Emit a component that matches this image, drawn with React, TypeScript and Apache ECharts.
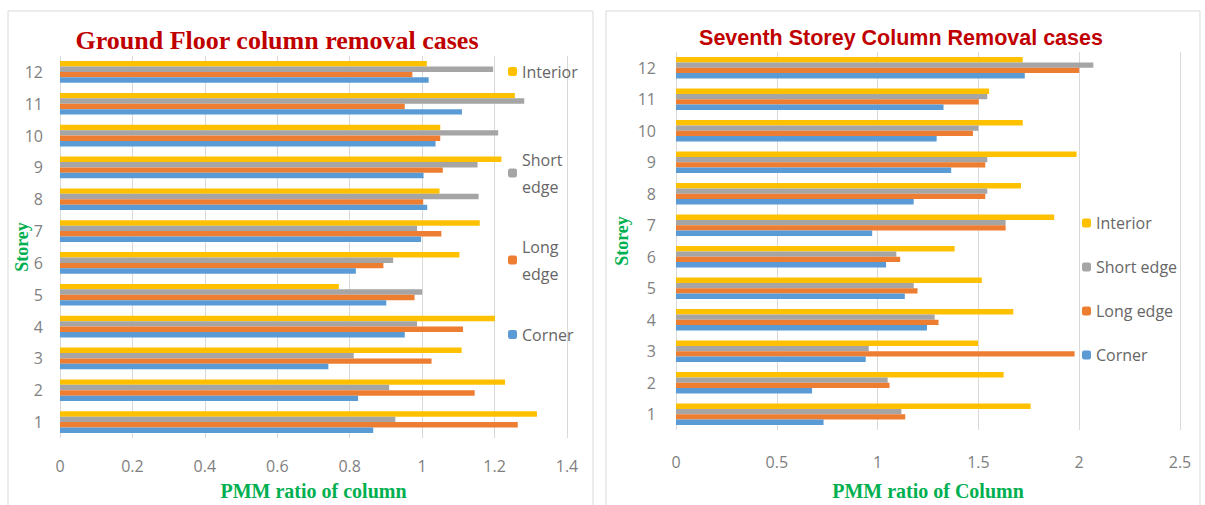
import React, { useEffect, useRef } from "react";
import * as echarts from "echarts";

const storeys = ["1", "2", "3", "4", "5", "6", "7", "8", "9", "10", "11", "12"];
const seriesNames = ["Interior", "Short edge", "Long edge", "Corner"];
const colors = ["#FFC000", "#A5A5A5", "#ED7D31", "#5B9BD5"];

// Ground floor removal cases (storey 1..12)
const gfInterior = [1.317, 1.229, 1.109, 1.201, 0.77, 1.103, 1.159, 1.048, 1.219, 1.05, 1.256, 1.013];
const gfShort = [0.926, 0.909, 0.811, 0.986, 1.0, 0.92, 0.986, 1.156, 1.153, 1.21, 1.282, 1.196];
const gfLong = [1.264, 1.145, 1.026, 1.113, 0.979, 0.893, 1.053, 1.003, 1.057, 1.05, 0.952, 0.973];
const gfCorner = [0.865, 0.823, 0.741, 0.952, 0.901, 0.817, 0.997, 1.014, 1.004, 1.037, 1.11, 1.018];

// Seventh storey removal cases (storey 1..12)
const ssInterior = [1.759, 1.625, 1.498, 1.673, 1.517, 1.382, 1.876, 1.711, 1.987, 1.72, 1.553, 1.72];
const ssShort = [1.118, 1.05, 0.956, 1.283, 1.179, 1.093, 1.635, 1.544, 1.544, 1.5, 1.544, 2.07];
const ssLong = [1.137, 1.059, 1.977, 1.302, 1.198, 1.112, 1.635, 1.534, 1.534, 1.473, 1.502, 2.0];
const ssCorner = [0.732, 0.675, 0.941, 1.245, 1.135, 1.042, 0.973, 1.179, 1.365, 1.293, 1.327, 1.73];

const leftTicks = { min: 0, max: 1.4, interval: 0.2 };
const rightTicks = { min: 0, max: 2.5, interval: 0.5 };

const tickColor = "#7F7F7F";
const gridColor = "#D9D9D9";
const green = "#00B050";

export default function App() {
  const ref = useRef<HTMLDivElement>(null);
  useEffect(() => {
    if (!ref.current) return;
    const chart = echarts.init(ref.current, undefined, { renderer: "svg" });
    const gfData = [gfInterior, gfShort, gfLong, gfCorner];
    const ssData = [ssInterior, ssShort, ssLong, ssCorner];
    const mkSeries = (data: number[][], idx: number) =>
      data.map((d, i) => ({
        type: "bar",
        name: seriesNames[i],
        xAxisIndex: idx,
        yAxisIndex: idx,
        data: d,
        barGap: "0%",
        barCategoryGap: "32%",
        itemStyle: { color: colors[i] },
      }));
    const valueAxis = (idx: number, t: any, name: string, nameGap: number, margin: number) => ({
      type: "value",
      gridIndex: idx,
      min: t.min,
      max: t.max,
      interval: t.interval,
      axisLine: { show: false },
      axisTick: { show: false },
      splitLine: { show: true, lineStyle: { color: gridColor, width: 1 } },
      axisLabel: { color: tickColor, fontSize: 16, fontFamily: "Open Sans", margin },
      name,
      nameLocation: "middle",
      nameGap,
      nameMoveOverlap: false,
      nameTextStyle: { color: green, fontSize: 20, fontWeight: "bold", fontFamily: "Liberation Serif" },
    });
    const catAxis = (idx: number, nameGap: number, margin: number) => ({
      type: "category",
      gridIndex: idx,
      data: storeys,
      axisLine: { show: false },
      axisTick: { show: false },
      axisLabel: { color: tickColor, fontSize: 16, fontFamily: "Open Sans", margin },
      name: "Storey",
      nameLocation: "middle",
      nameGap,
      nameMoveOverlap: false,
      nameTextStyle: { color: green, fontSize: 18, fontWeight: "bold", fontFamily: "Liberation Serif" },
    });
    const legendText = { color: "#666666", fontSize: 16, fontFamily: "Open Sans" };
    const leftLegendPos = [
      { name: "Interior", top: 53 },
      { name: "Short edge", top: 141 },
      { name: "Long edge", top: 228 },
      { name: "Corner", top: 316 },
    ];
    const leftLegends = leftLegendPos.map((p) => ({
      data: [p.name],
      orient: "vertical",
      left: 503,
      top: p.top,
      itemWidth: 9,
      itemHeight: 9,
      itemGap: 4,
      textStyle: { ...legendText, lineHeight: 27 },
      formatter: (n: string) => n.replace(" ", "\n"),
    }));
    chart.setOption({
      animation: false,
      title: [
        {
          text: "Ground Floor column removal cases",
          left: 272,
          top: 22,
          textAlign: "center",
          textStyle: { color: "#C00000", fontSize: 26, fontWeight: "bold", fontFamily: "Liberation Serif" },
        },
        {
          text: "Seventh Storey Column Removal cases",
          left: 896,
          top: 22,
          textAlign: "center",
          textStyle: { color: "#C00000", fontSize: 21.5, fontWeight: "bold", fontFamily: "Liberation Sans" },
        },
      ],
      legend: [
        ...leftLegends,
        {
          data: seriesNames,
          orient: "vertical",
          left: 1077,
          top: 210,
          itemWidth: 9,
          itemHeight: 9,
          itemGap: 28,
          textStyle: legendText,
        },
      ],
      graphic: [
        { type: "rect", shape: { x: 8, y: 11, width: 585, height: 500 }, style: { fill: "none", stroke: gridColor, lineWidth: 1 } },
        { type: "rect", shape: { x: 606, y: 11, width: 594, height: 500 }, style: { fill: "none", stroke: gridColor, lineWidth: 1 } },
      ],
      grid: [
        { left: 60, top: 56, width: 507, height: 382, outerBoundsMode: "none", containLabel: false },
        { left: 676, top: 52, width: 504, height: 378, outerBoundsMode: "none", containLabel: false },
      ],
      xAxis: [valueAxis(0, leftTicks, "PMM ratio of column", 43, 20), valueAxis(1, rightTicks, "PMM ratio of Column", 51, 24)],
      yAxis: [catAxis(0, 29, 17), catAxis(1, 45, 20)],
      series: [...mkSeries(gfData, 0), ...mkSeries(ssData, 1)],
    });
    return () => chart.dispose();
  }, []);
  return <div ref={ref} style={{ position: "fixed", left: 0, top: 0, width: 1205, height: 505, background: "#fff" }} />;
}
